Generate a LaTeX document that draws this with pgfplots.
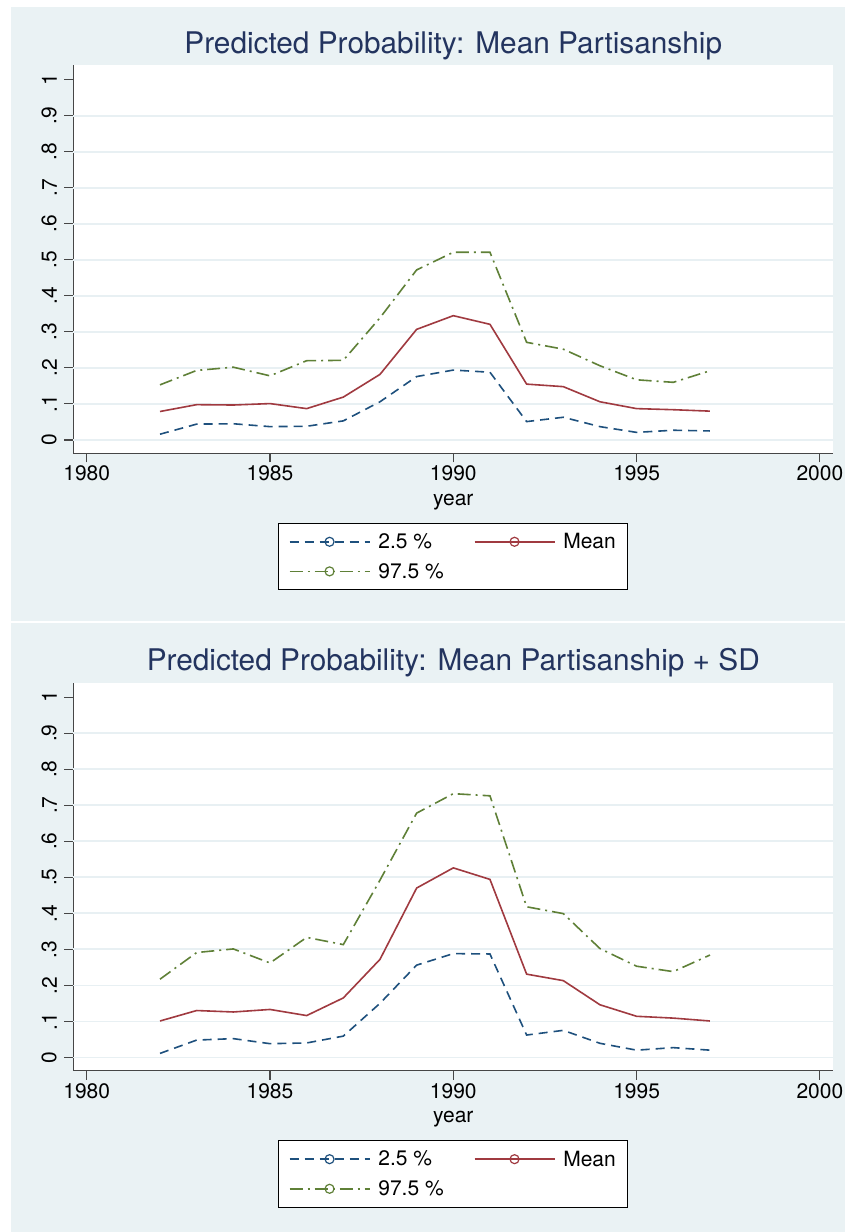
\documentclass[border=0pt]{standalone}
\usepackage{fontspec}
\setmainfont{TeX Gyre Heros}
\usepackage{pgfplots}
\pgfplotsset{compat=1.18}
\definecolor{bgpanel}{RGB}{234,242,244}
\definecolor{gridc}{RGB}{232,240,243}
\definecolor{stnavy}{RGB}{30,80,125}
\definecolor{stmaroon}{RGB}{160,58,64}
\definecolor{stgreen}{RGB}{95,128,55}
\definecolor{titlec}{RGB}{35,52,95}
\definecolor{axc}{RGB}{70,70,70}

\pgfplotstableread{
year lo mean hi
1982 0.016 0.079 0.153
1983 0.044 0.098 0.193
1984 0.045 0.097 0.202
1985 0.037 0.101 0.178
1986 0.038 0.087 0.220
1987 0.053 0.119 0.221
1988 0.106 0.182 0.339
1989 0.176 0.307 0.472
1990 0.194 0.345 0.521
1991 0.188 0.321 0.521
1992 0.051 0.155 0.271
1993 0.063 0.148 0.252
1994 0.037 0.106 0.206
1995 0.021 0.087 0.167
1996 0.027 0.084 0.160
1997 0.025 0.080 0.192
}\tabA

\pgfplotstableread{
year lo mean hi
1982 0.011 0.101 0.217
1983 0.048 0.130 0.291
1984 0.052 0.126 0.301
1985 0.038 0.133 0.262
1986 0.040 0.116 0.333
1987 0.059 0.165 0.313
1988 0.150 0.272 0.492
1989 0.256 0.470 0.678
1990 0.288 0.526 0.732
1991 0.287 0.494 0.726
1992 0.062 0.231 0.418
1993 0.075 0.213 0.399
1994 0.039 0.146 0.302
1995 0.020 0.114 0.253
1996 0.027 0.109 0.238
1997 0.020 0.101 0.284
}\tabB

\pgfplotsset{
 statastyle/.style={
  scale only axis, width=760pt, height=388pt, anchor=south west,
  xmin=1979.635, xmax=2000.365, ymin=-0.037, ymax=1.04,
  axis lines*=left,
  axis line style={axc, line width=1.3pt},
  axis background/.style={fill=white},
  xtick={1980,1985,1990,1995,2000},
  xticklabels={1980,1985,1990,1995,2000},
  ytick={0,0.1,0.2,0.3,0.4,0.5,0.6,0.7,0.8,0.9,1},
  yticklabels={0,.1,.2,.3,.4,.5,.6,.7,.8,.9,1},
  tick align=outside, major tick length=9pt,
  tick style={axc, line width=1.1pt},
  ticklabel style={font=\fontsize{21}{21}\selectfont, text=black},
  yticklabel style={rotate=90, anchor=south, yshift=4pt},
  extra y ticks={0,0.1,0.2,0.3,0.4,0.5,0.6,0.7,0.8,0.9},
  extra y tick labels={},
  extra y tick style={grid=major, major tick length=0pt},
  grid style={gridc, line width=1.6pt},
  xlabel={year},
  xlabel style={at={(axis description cs:0.5,0)}, anchor=north, yshift=-40.5pt, inner sep=0pt, font=\fontsize{21}{21}\selectfont},
  title style={at={(axis description cs:0.5,1)}, anchor=base, yshift=6pt, inner sep=0pt, font=\fontsize{29.8}{30}\selectfont, text=titlec},
  legend columns=2,
  legend cell align=left,
  legend style={at={(0.5,-0.1796)}, anchor=north, draw=black, line width=0.8pt, fill=white,
    font=\fontsize{21}{21}\selectfont, inner xsep=10pt, inner ysep=8pt,
    row sep=9pt,
    /tikz/every odd column/.append style={column sep=6pt},
    /tikz/every even column/.append style={column sep=28pt}},
  legend image code/.code={
    \draw[##1, line width=1.6pt] (0pt,0pt) -- (80pt,0pt);
    \draw[##1, solid, line width=1.2pt, fill=none] (40pt,0pt) circle (4.5pt);
  },
  every axis plot/.append style={line width=1.6pt, no markers},
 },
 lostyle/.style={stnavy, dash pattern=on 9pt off 6pt},
 meanstyle/.style={stmaroon, solid},
 histyle/.style={stgreen, dash pattern=on 13pt off 5pt on 2pt off 5pt},
}

\begin{document}
\begin{tikzpicture}[x=1pt,y=1pt]
\path[use as bounding box] (0,0) rectangle (845,1232);
\fill[white] (0,0) rectangle (845,1232);
\fill[bgpanel] (11,611.3) rectangle (845,1225);
\fill[bgpanel] (11,0) rectangle (845,608.7);

\begin{axis}[statastyle, at={(73.3pt,778.7pt)}, title={Predicted Probability: Mean Partisanship}]
\addplot[lostyle] table[x=year, y=lo] {\tabA};
\addlegendentry{2.5 \%}
\addplot[meanstyle] table[x=year, y=mean] {\tabA};
\addlegendentry{Mean}
\addplot[histyle] table[x=year, y=hi] {\tabA};
\addlegendentry{97.5 \%}
\end{axis}

\begin{axis}[statastyle, at={(73.3pt,161.3pt)}, title={Predicted Probability: Mean Partisanship + SD}]
\addplot[lostyle] table[x=year, y=lo] {\tabB};
\addlegendentry{2.5 \%}
\addplot[meanstyle] table[x=year, y=mean] {\tabB};
\addlegendentry{Mean}
\addplot[histyle] table[x=year, y=hi] {\tabB};
\addlegendentry{97.5 \%}
\end{axis}
\end{tikzpicture}
\end{document}
